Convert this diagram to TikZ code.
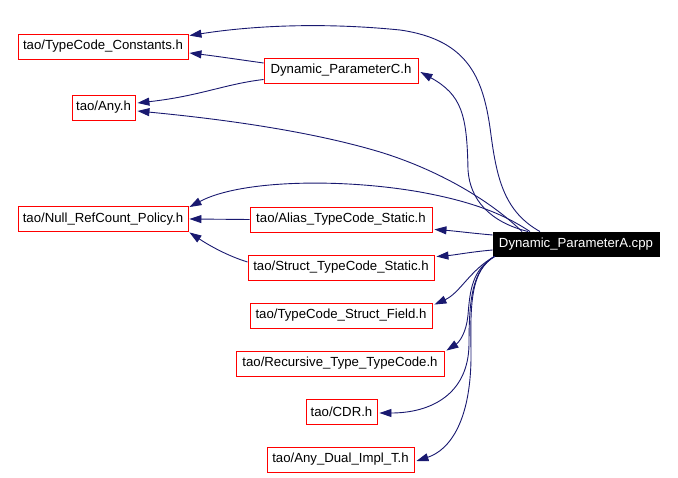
\documentclass[tikz,border=0pt]{standalone}
\usepackage{fontspec}
\setmainfont{Liberation Sans}
\usetikzlibrary{arrows.meta}
\definecolor{edgeblue}{RGB}{25,25,112}
\tikzset{
  box/.style={draw=red, fill=white, line width=0.9pt, minimum height=25pt, inner sep=0pt,
    font=\fontsize{13.2}{15}\selectfont},
  mainbox/.style={box, draw=black, fill=black, text=white, minimum height=24pt},
  edge/.style={draw=edgeblue, line width=0.9pt, -{Triangle[length=12pt,width=8pt]}}
}
\begin{document}
\begin{tikzpicture}[x=1pt,y=-1pt]
\useasboundingbox (0,0) rectangle (678,478);
\node[box, minimum width=170pt] (TC) at (103,46.5) {tao/TypeCode\_Constants.h};
\node[box, minimum width=154pt] (C) at (341,70.5) {Dynamic\_ParameterC.h};
\node[box, minimum width=63pt] (Any) at (103.5,107.5) {tao/Any.h};
\node[box, minimum width=170pt] (Null) at (103,219) {tao/Null\_RefCount\_Policy.h};
\node[box, minimum width=182pt] (Alias) at (341,219.5) {tao/Alias\_TypeCode\_Static.h};
\node[mainbox, minimum width=166pt] (A) at (576,244) {Dynamic\_ParameterA.cpp};
\node[box, minimum width=186pt] (Struct) at (341,267.5) {tao/Struct\_TypeCode\_Static.h};
\node[box, minimum width=182pt] (TSF) at (341,315.5) {tao/TypeCode\_Struct\_Field.h};
\node[box, minimum width=208pt] (Rec) at (340,363.5) {tao/Recursive\_Type\_TypeCode.h};
\node[box, minimum width=71pt] (CDR) at (341.5,411.5) {tao/CDR.h};
\node[box, minimum width=147pt] (AD) at (340.5,459.5) {tao/Any\_Dual\_Impl\_T.h};

% A -> TypeCode_Constants
\draw[edge] ([shift={(-36,0)}]A.north) .. controls (505,212) and (497,180) .. (491,135)
  .. controls (484,80) and (470,40) .. (400,30)
  .. controls (320,22) and (250,26) .. ([shift={(1,2)}]TC.north east);
% A -> Dynamic_ParameterC
\draw[edge] ([shift={(-48,0)}]A.north) .. controls (490,222) and (470,200) .. (468,170)
  .. controls (467,115) and (462,95) .. ([shift={(2,1.5)}]C.east);
% C -> TypeCode_Constants
\draw[edge] ([shift={(0,-7.5)}]C.west) .. controls (235,59) and (215,56) .. ([shift={(1,6.5)}]TC.east);
% C -> Any
\draw[edge] ([shift={(0,9)}]C.west) .. controls (225,84) and (200,96) .. ([shift={(2,-4.5)}]Any.east);
% A -> Any
\draw[edge] ([shift={(-54,0)}]A.north) .. controls (495,205) and (445,172) .. (380,152)
  .. controls (300,128) and (200,117) .. ([shift={(2,3.5)}]Any.east);
% A -> Null
\draw[edge] ([shift={(-46,0)}]A.north) .. controls (505,215) and (475,202) .. (420,192)
  .. controls (340,178) and (240,180) .. ([shift={(1,1)}]Null.north east);
% Alias -> Null
\draw[edge] (Alias.west) -- ([shift={(1,0)}]Null.east);
% Struct -> Null
\draw[edge] ([shift={(0,-5.5)}]Struct.west) .. controls (228,256) and (210,246) .. ([shift={(1,0.5)}]Null.south east);
% A -> Alias
\draw[edge] ([shift={(0,-9)}]A.west) .. controls (470,233) and (455,231) .. ([shift={(2,-3)}]Alias.south east);
% A -> Struct
\draw[edge] ([shift={(0,6)}]A.west) .. controls (470,252) and (455,255) .. ([shift={(2,2)}]Struct.north east);
% A -> TypeCode_Struct_Field
\draw[edge] ([shift={(2,0)}]A.south west) .. controls (470,270) and (460,293) .. ([shift={(2,2)}]TSF.north east);
% A -> Recursive
\draw[edge] ([shift={(2,0)}]A.south west) .. controls (472,270) and (470,290) .. (468,315)
  .. controls (466,335) and (458,343) .. ([shift={(2,0)}]Rec.north east);
% A -> CDR
\draw[edge] ([shift={(2,0)}]A.south west) .. controls (472,270) and (469,300) .. (469,345)
  .. controls (468,395) and (430,413) .. ([shift={(2,1.5)}]CDR.east);
% A -> Any_Dual_Impl_T
\draw[edge] ([shift={(2,0)}]A.south west) .. controls (472,270) and (470,300) .. (471,350)
  .. controls (472,420) and (450,450) .. ([shift={(2,1.5)}]AD.east);
\end{tikzpicture}
\end{document}
